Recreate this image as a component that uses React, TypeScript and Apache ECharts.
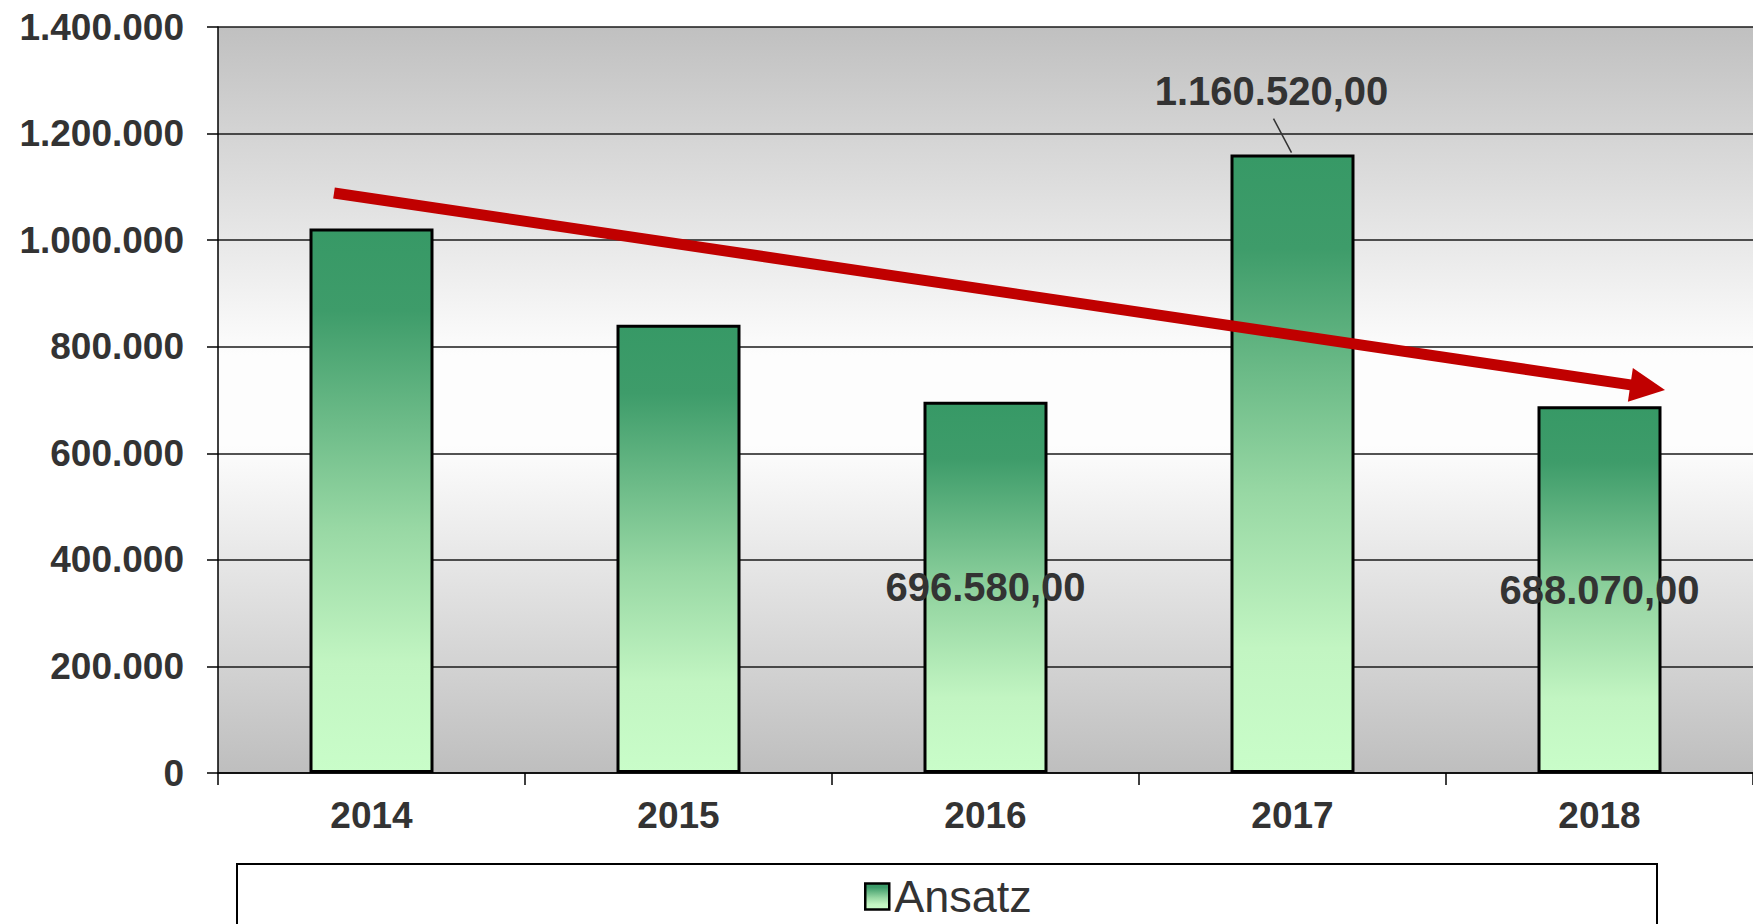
import React, { useEffect, useRef } from "react";
import * as echarts from "echarts";

// ---- data ----
const categories: string[] = ["2014", "2015", "2016", "2017", "2018"];
const ansatzValues: number[] = [1022000, 841000, 696580, 1160520, 688070];
// label mode per bar: "none" | "inside" | "above"
const labelModes: string[] = ["none", "none", "inside", "above", "inside"];
const seriesName = "Ansatz";
const yMin = 0;
const yMax = 1400000;
const yInterval = 200000;

// trend arrow annotation (pixel coordinates)
const arrowStart: [number, number] = [334, 193];
const arrowTip: [number, number] = [1665, 390];

const FONT = "Arial, 'Liberation Sans', Helvetica, sans-serif";

function fmtDE(v: number, dec: number): string {
  const fixed = v.toFixed(dec);
  const parts = fixed.split(".");
  const intStr = parts[0].replace(/\B(?=(\d{3})+(?!\d))/g, ".");
  return parts.length > 1 ? intStr + "," + parts[1] : intStr;
}

export default function App() {
  const ref = useRef<HTMLDivElement | null>(null);

  useEffect(() => {
    document.body.style.margin = "0";
    if (!ref.current) return;
    const chart = echarts.init(ref.current, null, { renderer: "svg" });

    const barGradient = new echarts.graphic.LinearGradient(0, 0, 0, 1, [
      { offset: 0, color: "#379966" },
      { offset: 0.15, color: "#3e9c6a" },
      { offset: 0.55, color: "#98d8a4" },
      { offset: 0.8, color: "#c2f5c2" },
      { offset: 1, color: "#c9fdc9" },
    ]);
    const bgGradient = new echarts.graphic.LinearGradient(0, 0, 0, 1, [
      { offset: 0, color: "#c0c0c0" },
      { offset: 0.44, color: "#fdfdfd" },
      { offset: 0.56, color: "#fdfdfd" },
      { offset: 1, color: "#bebebe" },
    ]);

    const labelBase = {
      show: true,
      fontSize: 40,
      fontWeight: "bold",
      color: "#333333",
      fontFamily: FONT,
      textBorderWidth: 0,
      formatter: (p: any) => fmtDE(p.value, 2),
    };

    const data = ansatzValues.map((v, i) => {
      const mode = labelModes[i];
      if (mode === "inside") {
        return { value: v, label: { ...labelBase, position: "inside" } };
      }
      if (mode === "above") {
        return {
          value: v,
          label: { ...labelBase, position: "top", distance: 44, offset: [-21, 0] },
        };
      }
      return { value: v, label: { show: false } };
    });

    const option: any = {
      animation: false,
      backgroundColor: "#ffffff",
      grid: {
        left: 218,
        top: 27,
        right: 0,
        bottom: 151,
        show: true,
        borderWidth: 0,
        backgroundColor: bgGradient,
      },
      xAxis: {
        type: "category",
        data: categories,
        axisLine: { show: true, lineStyle: { color: "#000", width: 1.5 } },
        axisTick: { show: true, length: 12, lineStyle: { color: "#000", width: 1.5 } },
        axisLabel: {
          fontSize: 37,
          fontWeight: "bold",
          color: "#333333",
          fontFamily: FONT,
          margin: 24,
        },
        splitLine: { show: false },
      },
      yAxis: {
        type: "value",
        min: yMin,
        max: yMax,
        interval: yInterval,
        axisLine: { show: true, lineStyle: { color: "#000", width: 1.5 } },
        axisTick: { show: true, length: 11, lineStyle: { color: "#000", width: 1.5 } },
        axisLabel: {
          formatter: (v: number) => fmtDE(v, 0),
          fontSize: 37,
          fontWeight: "bold",
          color: "#333333",
          fontFamily: FONT,
          margin: 34,
        },
        splitLine: { show: true, lineStyle: { color: "#1a1a1a", width: 1.5 } },
      },
      legend: {
        data: [seriesName],
        left: 864,
        top: 874,
        padding: 0,
        itemWidth: 24,
        itemHeight: 26,
        icon: "rect",
        itemStyle: { borderColor: "#000", borderWidth: 2.5 },
        textStyle: { fontSize: 45, color: "#333333", fontFamily: FONT, lineHeight: 40 },
      },
      series: [
        {
          type: "bar",
          name: seriesName,
          data,
          barWidth: 124,
          itemStyle: { color: barGradient, borderColor: "#000", borderWidth: 3 },
          label: { show: false },
        },
      ],
    };

    chart.setOption(option);

    const graphics: any[] = [
      {
        type: "rect",
        z: 1,
        shape: { x: 237, y: 864, width: 1420, height: 120 },
        style: { fill: "#ffffff", stroke: "#000", lineWidth: 2 },
      },
    ];
    // leader line for the "above" label
    labelModes.forEach((m, i) => {
      if (m !== "above") return;
      const p = chart.convertToPixel({ seriesIndex: 0 }, [categories[i], ansatzValues[i]]) as number[];
      graphics.push({
        type: "line",
        z: 100,
        shape: { x1: p[0] - 1, y1: p[1] - 2, x2: p[0] - 19, y2: p[1] - 36 },
        style: { stroke: "#333", lineWidth: 1.5 },
      });
    });

    // trend arrow
    const dx = arrowTip[0] - arrowStart[0];
    const dy = arrowTip[1] - arrowStart[1];
    const len = Math.sqrt(dx * dx + dy * dy);
    const ux = dx / len;
    const uy = dy / len;
    const headLen = 35;
    const headHalf = 17;
    const bx = arrowTip[0] - ux * headLen;
    const by = arrowTip[1] - uy * headLen;
    graphics.push({
      type: "line",
      z: 100,
      shape: { x1: arrowStart[0], y1: arrowStart[1], x2: bx + ux * 2, y2: by + uy * 2 },
      style: { stroke: "#c00000", lineWidth: 11, lineCap: "butt" },
    });
    graphics.push({
      type: "polygon",
      z: 100,
      shape: {
        points: [
          [arrowTip[0], arrowTip[1]],
          [bx - uy * headHalf, by + ux * headHalf],
          [bx + uy * headHalf, by - ux * headHalf],
        ],
      },
      style: { fill: "#c00000" },
    });

    chart.setOption({ graphic: graphics });

    return () => {
      chart.dispose();
    };
  }, []);

  return <div ref={ref} style={{ width: 1753, height: 924 }} />;
}
